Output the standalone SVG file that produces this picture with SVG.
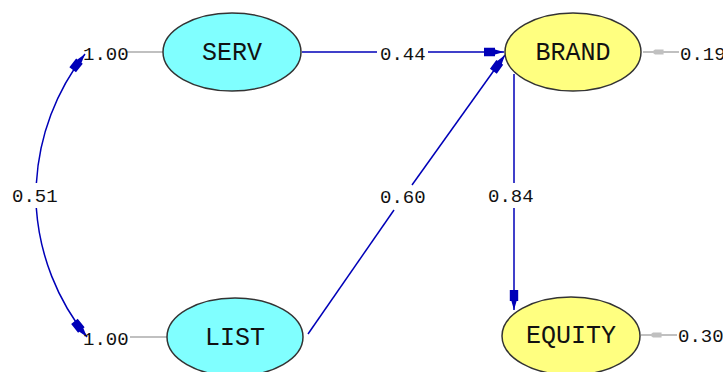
<svg xmlns="http://www.w3.org/2000/svg" width="723" height="372" viewBox="0 0 723 372">
<style>
.cyan{fill:#80ffff;stroke:#333;stroke-width:1.5}
.yel{fill:#ffff80;stroke:#333;stroke-width:1.5}
.nt{font-family:"Liberation Mono","Courier New",monospace;font-size:25px;fill:#111;text-anchor:middle}
.lb{font-family:"Liberation Mono","Courier New",monospace;font-size:19px;fill:#111}
.blue{fill:none;stroke:#0000b8;stroke-width:1.5}
.grey{fill:none;stroke:#c0c0c0;stroke-width:2}
</style>
<defs>
<marker id="ab" markerUnits="userSpaceOnUse" markerWidth="30" markerHeight="30" viewBox="-25 -10 30 20" refX="0" refY="0" orient="auto-start-reverse" overflow="visible">
<path d="M0,0 L-9,-2.6 L-9,-4.2 L-20,-4.2 L-20,4.2 L-9,4.2 L-9,2.6 Z" fill="#0000b8"/>
</marker>
<marker id="ag" markerUnits="userSpaceOnUse" markerWidth="30" markerHeight="30" viewBox="-30 -10 35 20" refX="0" refY="0" orient="auto" overflow="visible">
<path d="M-12,-1.5 L-14,-3 L-24,-3 L-24,3 L-14,3 L-12,1.5 Z" fill="#c0c0c0"/>
</marker>
</defs>
<g id="connectors">
<line class="grey" x1="127" y1="52" x2="163" y2="52"/>
<line class="grey" x1="130" y1="337" x2="167" y2="337"/>
<line class="grey" x1="679" y1="52" x2="643" y2="52" marker-end="url(#ag)"/>
<line class="grey" x1="677" y1="335" x2="641" y2="335" marker-end="url(#ag)"/>
<line class="blue" x1="302" y1="52" x2="377" y2="52"/>
<line class="blue" x1="428" y1="52" x2="504" y2="52" marker-end="url(#ab)"/>
<line class="blue" x1="514" y1="74" x2="514" y2="183"/>
<line class="blue" x1="514" y1="208" x2="514" y2="310" marker-end="url(#ab)"/>
<line class="blue" x1="308" y1="334" x2="394" y2="210"/>
<line class="blue" x1="412" y1="185" x2="505" y2="55" marker-end="url(#ab)"/>
<path class="blue" d="M85,54 A231,231 0 0 0 36.4,183" marker-start="url(#ab)"/>
<path class="blue" d="M36.3,208 A231,231 0 0 0 87,337" marker-end="url(#ab)"/>
</g>
<g id="labels">
<text class="lb" x="83" y="60">1.00</text>
<text class="lb" x="83" y="345">1.00</text>
<text class="lb" x="380" y="60">0.44</text>
<text class="lb" x="680" y="60">0.19</text>
<text class="lb" x="678" y="342">0.30</text>
<text class="lb" x="12" y="202">0.51</text>
<text class="lb" x="380" y="203">0.60</text>
<text class="lb" x="488" y="202">0.84</text>
</g>
<g id="SERV">
<ellipse class="cyan" cx="232" cy="52" rx="69" ry="39"/>
<text class="nt" x="232" y="60">SERV</text>
</g>
<g id="LIST">
<ellipse class="cyan" cx="235" cy="337" rx="68" ry="39"/>
<text class="nt" x="235" y="345">LIST</text>
</g>
<g id="BRAND">
<ellipse class="yel" cx="573" cy="52" rx="68" ry="39"/>
<text class="nt" x="573" y="60">BRAND</text>
</g>
<g id="EQUITY">
<ellipse class="yel" cx="571" cy="336" rx="69" ry="39"/>
<text class="nt" x="571" y="343">EQUITY</text>
</g>
</svg>
